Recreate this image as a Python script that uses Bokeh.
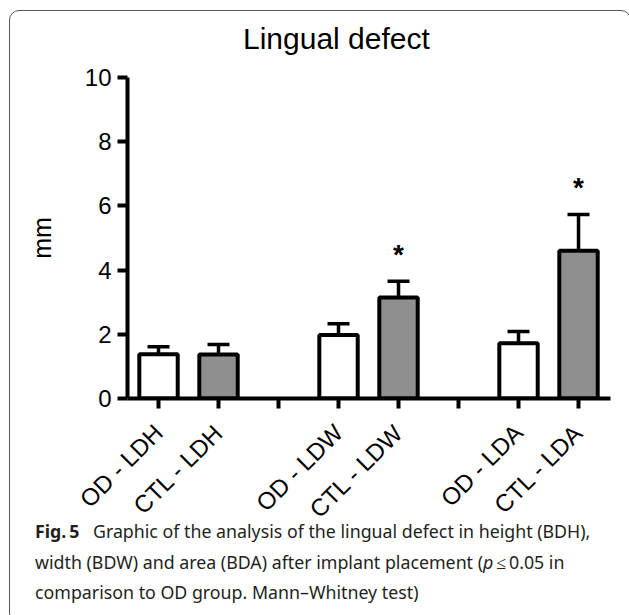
import math
from bokeh.plotting import figure
from bokeh.models import (FixedTicker, Range1d, Whisker, TeeHead, ColumnDataSource, Div)
from bokeh.layouts import column
from bokeh.embed import file_html
from bokeh.resources import INLINE
from bokeh.core.properties import value

# ---------------- data ----------------
title_text = "Lingual defect"
y_label = "mm"
categories = ["OD - LDH", "CTL - LDH", "OD - LDW", "CTL - LDW", "OD - LDA", "CTL - LDA"]
groups = ["OD", "CTL", "OD", "CTL", "OD", "CTL"]
means = [1.38, 1.37, 1.98, 3.15, 1.72, 4.60]
errors = [0.23, 0.31, 0.35, 0.50, 0.37, 1.13]
significant = [False, False, False, True, False, True]
y_ticks = [0, 2, 4, 6, 8, 10]
caption_html = (
    "<b>Fig.&thinsp;5</b>&ensp; Graphic of the analysis of the lingual defect in height (BDH),<br>"
    "width (BDW) and area (BDA) after implant placement (<i>p</i>&thinsp;\u2264&thinsp;0.05 in<br>"
    "comparison to OD group. Mann\u2013Whitney test)"
)

# ---------------- styles ----------------
group_fill = {"OD": "#ffffff", "CTL": "#8f8f8f"}
n_slots = 8
xs = [i + i // 2 for i in range(len(categories))]   # pairs with an empty slot between
uppers = [m + e for m, e in zip(means, errors)]
fills = [group_fill[g] for g in groups]

FIG_W, FIG_H = 610, 477
p = figure(width=FIG_W, height=FIG_H, output_backend="svg", toolbar_location=None,
           x_range=Range1d(-0.517, n_slots - 0.467), y_range=Range1d(0, 10),
           min_border_left=117, min_border_right=10, min_border_top=18,
           min_border_bottom=138)
p.background_fill_color = "white"
p.border_fill_color = None
p.outline_line_color = None
p.xgrid.visible = False
p.ygrid.visible = False

src = ColumnDataSource(dict(x=xs, top=means, upper=uppers, fill=fills))

wh = Whisker(source=src, base="x", lower="top", upper="upper", dimension="height",
             line_color="black", line_width=3.5,
             upper_head=TeeHead(size=22, line_width=3.5, line_color="black"),
             lower_head=None, level="underlay")
p.add_layout(wh)

p.vbar(x="x", top="top", bottom=0, width=0.64, source=src, fill_color="fill",
       line_color="black", line_width=4)

sx = [x for x, s in zip(xs, significant) if s]
sy = [u + 0.85 for u, s in zip(uppers, significant) if s]
p.text(x=sx, y=sy, text=["*"] * len(sx), text_align="center", text_baseline="middle",
       text_font=value("Liberation Sans"), text_font_size="28px",
       text_font_style="bold", text_color="black")

ax = p.xaxis[0]
ax.ticker = FixedTicker(ticks=list(range(n_slots)))
overrides = {i: "" for i in range(n_slots)}
for x, c in zip(xs, categories):
    overrides[x] = c
ax.major_label_overrides = overrides
ax.major_label_orientation = math.pi / 4
ax.axis_line_width = 4
ax.major_tick_line_width = 4
ax.major_tick_out = 10
ax.major_tick_in = 0
ax.minor_tick_line_color = None
ax.major_label_text_font = "Liberation Sans"
ax.major_label_text_font_size = "24px"
ax.major_label_text_color = "black"
ax.major_label_standoff = 20

ay = p.yaxis[0]
ay.ticker = FixedTicker(ticks=y_ticks)
ay.axis_line_width = 4
ay.major_tick_line_width = 4
ay.major_tick_out = 10
ay.major_tick_in = 0
ay.minor_tick_line_color = None
ay.major_label_text_font = "Liberation Sans"
ay.major_label_text_font_size = "24px"
ay.major_label_text_color = "black"
ay.major_label_standoff = 6
ay.axis_label = y_label
ay.axis_label_text_font = "Liberation Sans"
ay.axis_label_text_font_size = "25px"
ay.axis_label_text_font_style = "normal"
ay.axis_label_text_color = "black"
ay.axis_label_standoff = 26

title = Div(
    text=('<div style="margin-top:4px; padding-left:233px; font-family:\'Liberation Sans\';'
          ' font-size:30px; line-height:48px; color:black; white-space:nowrap;">'
          + title_text + '</div>'),
    width=FIG_W, height=48, margin=0)

caption = Div(
    text=('<div style="margin-top:-25px; padding-left:20px; font-family:\'Noto Sans\';'
          ' font-size:17.8px; line-height:30.5px; color:#231f20; white-space:nowrap;">'
          + caption_html + '</div>'),
    width=FIG_W, height=76)

root = column(title, p, caption, margin=(10, 0, 0, 9),
              styles={"border": "1px solid #555555", "border-radius": "10px",
                      "background": "white"})

open("out.html", "w").write(file_html(root, INLINE))
